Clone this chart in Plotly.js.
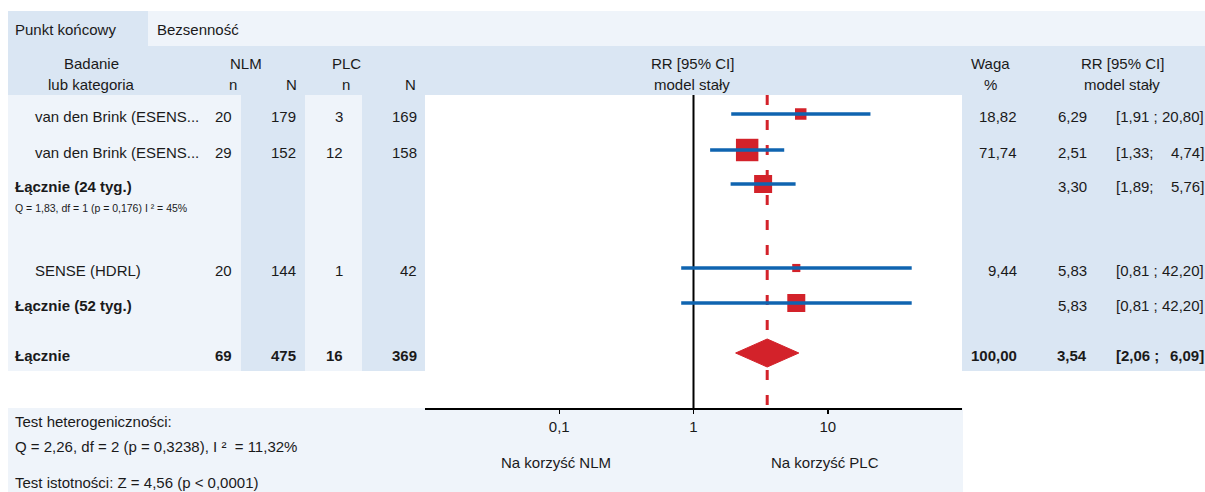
<!DOCTYPE html>
<html>
<head>
<meta charset="utf-8">
<script src="https://cdn.plot.ly/plotly-3.0.1.min.js"></script>
<style>html,body{margin:0;padding:0;background:#fff;}#chart{width:1205px;height:492px;}</style>
</head>
<body>
<div id="chart"></div>
<script>
// ---------- data ----------
const rowLabels = ['van den Brink (ESENS...', 'van den Brink (ESENS...', 'Łącznie (24 tyg.)', 'SENSE (HDRL)', 'Łącznie (52 tyg.)', 'Łącznie'];
const rowKind   = ['study', 'study', 'subtotal', 'study', 'subtotal', 'total'];
const nlmEvents = [20, 29, null, 20, null, 69];
const nlmTotal  = [179, 152, null, 144, null, 475];
const plcEvents = [3, 12, null, 1, null, 16];
const plcTotal  = [169, 158, null, 42, null, 369];
const weights   = [18.82, 71.74, null, 9.44, null, 100.00];
const rrValues  = [6.29, 2.51, 3.30, 5.83, 5.83, 3.54];
const ciLower   = [1.91, 1.33, 1.89, 0.81, 0.81, 2.06];
const ciUpper   = [20.80, 4.74, 5.76, 42.20, 42.20, 6.09];
const tickVals  = [0.1, 1, 10];
const tickText  = ['0,1', '1', '10'];
const subgroupNote = 'Q = 1,83, df = 1 (p = 0,176) I ² = 45%';
const heteroTitle = 'Test heterogeniczności:';
const heteroText  = 'Q = 2,26, df = 2 (p = 0,3238), I ²  = 11,32%';
const signifText  = 'Test istotności: Z = 4,56 (p < 0,0001)';
const favourLeft  = 'Na korzyść NLM';
const favourRight = 'Na korzyść PLC';

// ---------- layout helpers ----------
const W = 1205, H = 492;
const px = x => x / W;
const py = y => 1 - y / H;
const rowY = [114, 150, 184, 268, 303, 353];   // row centres (px)
const plotTop = 95, plotBottom = 408, plotLeft = 425, plotRight = 962;
const DARK = '#dae6f3', LIGHT = '#eff4fa';
const RED = '#d3222a', BLUE = '#0f64b0';
const FONT = 'Liberation Sans, Arial, sans-serif';
const TXT = '#1a1a1a';
const FS = 15;
const fmt = v => v.toFixed(2).replace('.', ',');

// ---------- traces ----------
const traces = [];
traces.push({x: [1, 1], y: [plotTop, plotBottom], mode: 'lines', line: {color: '#000', width: 2}, hoverinfo: 'skip', showlegend: false});
const totIdx = rowKind.indexOf('total');
traces.push({x: [rrValues[totIdx], rrValues[totIdx]], y: [plotTop, plotBottom], mode: 'lines',
  line: {color: RED, width: 3, dash: '10px,15px'}, hoverinfo: 'skip', showlegend: false});

const sqX = [], sqY = [], sqS = [];
rowKind.forEach((k, i) => {
  if (k === 'study') { sqX.push(rrValues[i]); sqY.push(rowY[i]); sqS.push(2.65 * Math.sqrt(weights[i])); }
  if (k === 'subtotal') { sqX.push(rrValues[i]); sqY.push(rowY[i]); sqS.push(18); }
});
traces.push({x: sqX, y: sqY, mode: 'markers', marker: {symbol: 'square', size: sqS, color: RED, opacity: 1, line: {width: 0}},
  hoverinfo: 'skip', showlegend: false});

const ciX = [], ciY = [];
rowKind.forEach((k, i) => {
  if (k !== 'total') { ciX.push(ciLower[i], ciUpper[i], null); ciY.push(rowY[i], rowY[i], null); }
});
traces.push({x: ciX, y: ciY, mode: 'lines', line: {color: BLUE, width: 3.5}, hoverinfo: 'skip', showlegend: false});

const dh = 14;
traces.push({
  x: [ciLower[totIdx], rrValues[totIdx], ciUpper[totIdx], rrValues[totIdx], ciLower[totIdx]],
  y: [rowY[totIdx], rowY[totIdx] - dh, rowY[totIdx], rowY[totIdx] + dh, rowY[totIdx]],
  mode: 'lines', fill: 'toself', fillcolor: RED, line: {color: RED, width: 1}, hoverinfo: 'skip', showlegend: false
});

// ---------- background shapes ----------
const rect = (x0, y0, x1, y1, c) => ({type: 'rect', xref: 'paper', yref: 'paper', x0: px(x0), x1: px(x1), y0: py(y1), y1: py(y0),
  fillcolor: c, line: {width: 0}, layer: 'below'});
const shapes = [
  rect(148, 11, 1205, 46, LIGHT),
  rect(8, 11, 148, 46, DARK),
  rect(8, 46, 1205, 95, DARK),
  rect(8, 95, 425, 371, LIGHT),
  rect(241, 95, 305, 371, DARK),
  rect(362, 95, 425, 371, DARK),
  rect(962, 95, 1205, 371, DARK),
  rect(8, 408, 963, 492, LIGHT)
];

// ---------- annotations ----------
const ann = [];
const T = (text, x, y, anchor, opts = {}) => ann.push({
  text, x: px(x), y: py(y), xref: 'paper', yref: 'paper', xanchor: anchor, yanchor: 'middle', showarrow: false,
  borderpad: 0, font: {family: FONT, size: opts.size || FS, color: TXT}
});
T('Punkt końcowy', 14, 29, 'left');
T('Bezsenność', 156, 29, 'left');
T('Badanie', 91, 63, 'center');
T('lub kategoria', 91, 85, 'center');
T('NLM', 246, 63, 'center');
T('n', 233, 85, 'center');
T('N', 291, 85, 'center');
T('PLC', 347, 63, 'center');
T('n', 346, 85, 'center');
T('N', 410, 85, 'center');
T('RR [95% CI]', 692, 63, 'center');
T('model stały', 692, 85, 'center');
T('Waga', 990, 63, 'center');
T('%', 990, 85, 'center');
T('RR [95% CI]', 1122, 63, 'center');
T('model stały', 1122, 85, 'center');

rowKind.forEach((k, i) => {
  const y = rowY[i] + 2;
  const b = s => (k === 'total' ? '<b>' + s + '</b>' : s);
  if (k === 'study') T(rowLabels[i], 34, y, 'left');
  else T('<b>' + rowLabels[i] + '</b>', 14, y, 'left');
  if (nlmEvents[i] !== null) T(b(String(nlmEvents[i])), 233, y, 'right');
  if (nlmTotal[i] !== null) T(b(String(nlmTotal[i])), 297, y, 'right');
  if (plcEvents[i] !== null) T(b(String(plcEvents[i])), 344, y, 'right');
  if (plcTotal[i] !== null) T(b(String(plcTotal[i])), 418, y, 'right');
  if (weights[i] !== null) T(b(fmt(weights[i])), 1018, y, 'right');
  T(b(fmt(rrValues[i])), 1088, y, 'right');
  const sep = (ciUpper[i] >= 10 || k === 'total') ? ' ;' : ';';
  T(b('[' + fmt(ciLower[i]) + sep), 1115, y, 'left');
  T(b(fmt(ciUpper[i]) + ']'), 1205, y, 'right');
});
T(subgroupNote, 14, 208, 'left', {size: 10.5});

T(heteroTitle, 14, 421, 'left');
T(heteroText, 14, 446, 'left');
T(signifText, 14, 482, 'left');
T(favourLeft, 556, 462, 'center');
T(favourRight, 825, 462, 'center');

// ---------- layout ----------
const layout = {
  width: W, height: H,
  margin: {l: 0, r: 0, t: 0, b: 0},
  paper_bgcolor: '#ffffff',
  plot_bgcolor: 'rgba(0,0,0,0)',
  showlegend: false,
  xaxis: {
    type: 'log', range: [-2, 2], domain: [px(plotLeft), px(plotRight)],
    tickvals: tickVals, ticktext: tickText,
    showline: true, linecolor: '#000', linewidth: 2,
    ticks: 'outside', ticklen: 4, tickcolor: '#000', tickwidth: 1.5,
    tickfont: {family: FONT, size: FS, color: TXT},
    showgrid: false, zeroline: false, fixedrange: true
  },
  yaxis: {
    range: [plotBottom, plotTop], domain: [py(plotBottom), py(plotTop)],
    visible: false, showgrid: false, zeroline: false, fixedrange: true
  },
  shapes, annotations: ann
};

Plotly.newPlot('chart', traces, layout, {staticPlot: true, displayModeBar: false});
</script>
</body>
</html>
